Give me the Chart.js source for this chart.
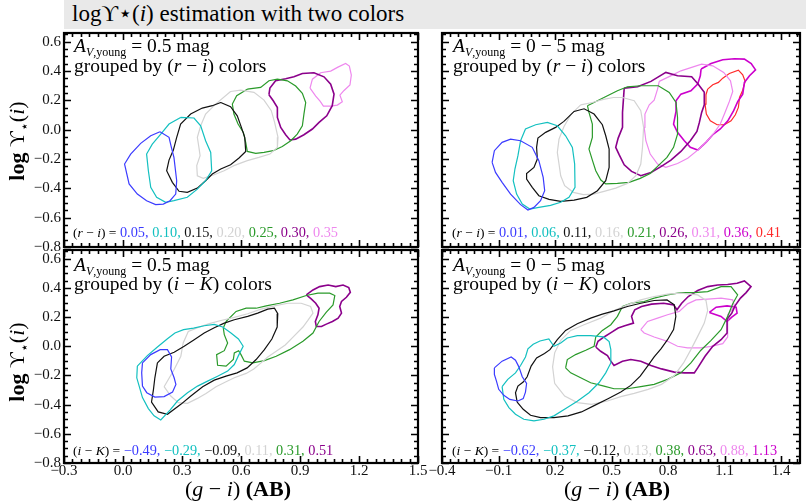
<!DOCTYPE html>
<html>
<head>
<meta charset="utf-8">
<script src="https://cdn.jsdelivr.net/npm/chart.js@4"></script>
<style>
  body { margin: 0; background: #fff; }
  #page { position: relative; width: 806px; height: 504px; overflow: hidden;
          font-family: "Liberation Serif", "DejaVu Serif", serif; color: #000; }
  #page canvas { position: absolute; left: 0; top: 0; }
  .titlebar { position: absolute; left: 64px; top: 0; width: 742px; height: 29px; background: #e9e9e9; }
  .title { position: absolute; left: 72px; top: 1px; font-size: 23px; line-height: 25px; white-space: nowrap; }
  .note { position: absolute; font-size: 19.5px; line-height: 20px; white-space: nowrap; z-index: 2; }
  .note sub { font-size: 12px; vertical-align: -4px; line-height: 0; }
  .legend { position: absolute; font-size: 14.3px; line-height: 16px; white-space: nowrap; z-index: 2; }
  .legend .lhs { font-size: 13.5px; }
  .ylab { position: absolute; font-size: 22px; white-space: nowrap;
          transform: translate(-50%, -50%) rotate(-90deg); z-index: 2; }
  .ylab sub { font-size: 14px; vertical-align: -5px; line-height: 0; }
  .xlab { position: absolute; font-size: 22px; white-space: nowrap; transform: translate(-50%, -50%); z-index: 2; }
</style>
</head>
<body>
<div id="page">
  <div class="titlebar"></div>
  <div class="title">logϒ⋆(<i>i</i>) estimation with two colors</div>

  <canvas id="tl" width="806" height="504"></canvas>
  <canvas id="tr" width="806" height="504"></canvas>
  <canvas id="bl" width="806" height="504"></canvas>
  <canvas id="br" width="806" height="504"></canvas>

  <div class="note" style="left:74px;top:36px"><i>A</i><sub><i>V</i>,young</sub> = 0.5 mag</div>
  <div class="note" style="left:74px;top:56px">grouped by (<i>r</i> − <i>i</i>) colors</div>
  <div class="note" style="left:453px;top:36px"><i>A</i><sub><i>V</i>,young</sub> = 0 − 5 mag</div>
  <div class="note" style="left:453px;top:56px">grouped by (<i>r</i> − <i>i</i>) colors</div>
  <div class="note" style="left:74px;top:255px"><i>A</i><sub><i>V</i>,young</sub> = 0.5 mag</div>
  <div class="note" style="left:74px;top:274px">grouped by (<i>i</i> − <i>K</i>) colors</div>
  <div class="note" style="left:453px;top:255px"><i>A</i><sub><i>V</i>,young</sub> = 0 − 5 mag</div>
  <div class="note" style="left:453px;top:274px">grouped by (<i>i</i> − <i>K</i>) colors</div>

  <div class="legend" id="legTL" style="left:73px;top:224px"></div>
  <div class="legend" id="legTR" style="left:452px;top:224px"></div>
  <div class="legend" id="legBL" style="left:73px;top:442px"></div>
  <div class="legend" id="legBR" style="left:452px;top:442px"></div>

  <div class="ylab" style="left:17px;top:141px"><b>log</b> ϒ<sub>⋆</sub>(<i>i</i>)</div>
  <div class="ylab" style="left:17px;top:362px"><b>log</b> ϒ<sub>⋆</sub>(<i>i</i>)</div>
  <div class="xlab" style="left:238px;top:489px">(<i>g</i> − <i>i</i>) <b>(AB)</b></div>
  <div class="xlab" style="left:617px;top:489px">(<i>g</i> − <i>i</i>) <b>(AB)</b></div>
</div>

<script>
// tick values
const xTicksLeft = [-0.3, 0.0, 0.3, 0.6, 0.9, 1.2, 1.5];
const xTicksRight = [-0.4, -0.1, 0.2, 0.5, 0.8, 1.1, 1.4];
const yTicks = [-0.8, -0.6, -0.4, -0.2, 0.0, 0.2, 0.4, 0.6];

// groups (legend values)
const riFixedLabels = ['0.05', '0.10', '0.15', '0.20', '0.25', '0.30', '0.35'];
const riFreeLabels = ['0.01', '0.06', '0.11', '0.16', '0.21', '0.26', '0.31', '0.36', '0.41'];
const ikFixedLabels = ['−0.49', '−0.29', '−0.09', '0.11', '0.31', '0.51'];
const ikFreeLabels = ['−0.62', '−0.37', '−0.12', '0.13', '0.38', '0.63', '0.88', '1.13'];

// contours, A_V = 0.5, grouped by (r-i)
const riFixed005 = [[0.188,-0.014],[0.234,-0.052],[0.246,-0.120],[0.259,-0.189],[0.273,-0.348],[0.268,-0.439],[0.239,-0.484],[0.205,-0.507],[0.166,-0.511],[0.120,-0.484],[0.073,-0.439],[0.031,-0.370],[0.008,-0.234],[0.039,-0.166],[0.090,-0.093],[0.141,-0.041]];
const riFixed010 = [[0.293,0.084],[0.361,0.080],[0.395,0.027],[0.420,-0.075],[0.446,-0.155],[0.451,-0.280],[0.420,-0.348],[0.378,-0.405],[0.327,-0.461],[0.259,-0.484],[0.217,-0.495],[0.171,-0.461],[0.141,-0.393],[0.129,-0.280],[0.120,-0.166],[0.149,-0.098],[0.192,-0.030],[0.234,0.039]];
const riFixed015 = [[0.497,0.186],[0.547,0.157],[0.581,0.095],[0.602,0.016],[0.619,-0.052],[0.624,-0.148],[0.590,-0.193],[0.547,-0.239],[0.497,-0.268],[0.454,-0.302],[0.420,-0.348],[0.378,-0.398],[0.327,-0.427],[0.285,-0.420],[0.251,-0.359],[0.222,-0.280],[0.234,-0.207],[0.256,-0.139],[0.273,-0.052],[0.293,0.039],[0.344,0.107],[0.403,0.148],[0.454,0.164]];
const riFixed020 = [[0.547,0.261],[0.598,0.270],[0.666,0.255],[0.717,0.202],[0.754,0.130],[0.771,0.050],[0.788,-0.052],[0.785,-0.120],[0.747,-0.166],[0.691,-0.189],[0.632,-0.211],[0.564,-0.245],[0.514,-0.280],[0.463,-0.307],[0.408,-0.332],[0.378,-0.314],[0.375,-0.245],[0.392,-0.177],[0.386,-0.120],[0.378,-0.052],[0.395,0.027],[0.420,0.107],[0.471,0.175]];
const riFixed025 = [[0.632,0.277],[0.700,0.289],[0.742,0.334],[0.785,0.345],[0.836,0.334],[0.878,0.298],[0.912,0.248],[0.929,0.186],[0.920,0.107],[0.912,0.027],[0.886,-0.030],[0.853,-0.075],[0.810,-0.114],[0.764,-0.143],[0.717,-0.155],[0.675,-0.161],[0.632,-0.148],[0.624,-0.086],[0.612,-0.018],[0.585,0.039],[0.564,0.107],[0.556,0.175],[0.578,0.232]];
const riFixed030 = [[0.742,0.239],[0.747,0.284],[0.776,0.334],[0.827,0.348],[0.869,0.361],[0.912,0.384],[0.971,0.389],[1.022,0.361],[1.056,0.311],[1.073,0.243],[1.064,0.164],[1.036,0.095],[0.997,0.050],[0.963,0.005],[0.920,-0.034],[0.878,-0.064],[0.849,-0.070],[0.827,-0.034],[0.802,0.016],[0.785,0.084],[0.785,0.152],[0.764,0.198]];
const riFixed035 = [[0.951,0.284],[0.963,0.345],[1.005,0.389],[1.056,0.400],[1.093,0.427],[1.132,0.452],[1.151,0.434],[1.161,0.373],[1.154,0.305],[1.124,0.268],[1.103,0.236],[1.115,0.191],[1.090,0.168],[1.056,0.161],[1.019,0.161],[1.002,0.195],[0.980,0.230]];

// contours, A_V = 0-5, grouped by (r-i)
const riFree001 = [[-0.134,-0.223],[-0.122,-0.143],[-0.081,-0.086],[-0.036,-0.064],[0.017,-0.075],[0.079,-0.120],[0.114,-0.211],[0.137,-0.325],[0.145,-0.416],[0.123,-0.484],[0.088,-0.530],[0.056,-0.548],[0.017,-0.511],[-0.036,-0.439],[-0.081,-0.359],[-0.116,-0.291]];
const riFree006 = [[0.017,-0.075],[0.043,0.005],[0.097,0.034],[0.159,0.050],[0.212,0.027],[0.256,-0.041],[0.292,-0.120],[0.304,-0.234],[0.306,-0.393],[0.274,-0.461],[0.230,-0.495],[0.176,-0.516],[0.114,-0.530],[0.066,-0.541],[0.026,-0.507],[-0.004,-0.439],[-0.022,-0.348],[-0.013,-0.268],[0.003,-0.177]];
const riFree011 = [[0.247,0.057],[0.301,0.125],[0.354,0.143],[0.407,0.107],[0.451,0.034],[0.469,-0.041],[0.487,-0.132],[0.487,-0.257],[0.469,-0.348],[0.425,-0.416],[0.368,-0.461],[0.301,-0.480],[0.230,-0.489],[0.168,-0.475],[0.114,-0.450],[0.079,-0.393],[0.049,-0.336],[0.049,-0.298],[0.088,-0.257],[0.106,-0.200],[0.102,-0.120],[0.109,-0.057],[0.150,-0.018],[0.203,0.016]];
const riFree016 = [[0.336,0.170],[0.398,0.186],[0.457,0.207],[0.510,0.220],[0.558,0.220],[0.620,0.198],[0.655,0.130],[0.670,0.016],[0.664,-0.120],[0.655,-0.234],[0.629,-0.314],[0.584,-0.366],[0.522,-0.398],[0.460,-0.420],[0.404,-0.439],[0.350,-0.443],[0.297,-0.427],[0.251,-0.382],[0.230,-0.314],[0.221,-0.234],[0.212,-0.155],[0.221,-0.064],[0.247,0.020],[0.286,0.107]];
const riFree021 = [[0.372,0.164],[0.425,0.198],[0.478,0.232],[0.531,0.266],[0.584,0.293],[0.655,0.300],[0.748,0.300],[0.806,0.255],[0.842,0.186],[0.850,0.084],[0.850,-0.030],[0.829,-0.120],[0.794,-0.189],[0.748,-0.245],[0.705,-0.298],[0.652,-0.332],[0.593,-0.359],[0.531,-0.366],[0.469,-0.370],[0.443,-0.343],[0.416,-0.280],[0.398,-0.207],[0.380,-0.132],[0.398,-0.052],[0.398,0.039],[0.380,0.118]];
const riFree026 = [[0.567,0.284],[0.638,0.293],[0.709,0.330],[0.788,0.391],[0.850,0.368],[0.925,0.361],[0.960,0.311],[0.992,0.255],[0.992,0.170],[0.978,0.118],[0.966,0.050],[0.953,-0.011],[0.918,-0.075],[0.868,-0.148],[0.815,-0.207],[0.762,-0.252],[0.709,-0.291],[0.655,-0.314],[0.606,-0.284],[0.567,-0.239],[0.540,-0.170],[0.522,-0.120],[0.535,-0.057],[0.558,0.016],[0.558,0.118],[0.563,0.209]];
const riFree031 = [[0.753,0.330],[0.811,0.366],[0.868,0.402],[0.925,0.425],[0.978,0.448],[1.037,0.436],[1.095,0.391],[1.131,0.334],[1.143,0.261],[1.125,0.193],[1.102,0.118],[1.077,0.039],[1.046,-0.018],[1.001,-0.086],[0.957,-0.139],[0.904,-0.195],[0.850,-0.230],[0.788,-0.257],[0.744,-0.234],[0.705,-0.166],[0.682,-0.075],[0.673,0.016],[0.677,0.107],[0.700,0.170],[0.726,0.202],[0.744,0.277]];
const riFree036 = [[0.975,0.414],[1.028,0.452],[1.090,0.477],[1.152,0.484],[1.205,0.482],[1.241,0.452],[1.264,0.409],[1.232,0.368],[1.205,0.323],[1.196,0.243],[1.170,0.193],[1.148,0.130],[1.117,0.061],[1.077,0.005],[1.037,-0.034],[1.001,-0.086],[0.957,-0.139],[0.918,-0.120],[0.886,-0.075],[0.850,-0.018],[0.829,0.039],[0.842,0.125],[0.842,0.198],[0.868,0.243],[0.921,0.266],[0.957,0.311],[0.971,0.368]];
const riFree041 = [[1.010,0.277],[1.037,0.307],[1.067,0.323],[1.090,0.352],[1.125,0.384],[1.173,0.407],[1.196,0.375],[1.209,0.330],[1.196,0.270],[1.179,0.220],[1.173,0.152],[1.157,0.102],[1.134,0.061],[1.099,0.034],[1.060,0.034],[1.024,0.061],[1.003,0.107],[0.996,0.175],[1.001,0.239]];

// contours, A_V = 0.5, grouped by (i-K)
const ikFixedM049 = [[0.099,-0.114],[0.141,-0.057],[0.189,-0.023],[0.226,-0.023],[0.247,-0.073],[0.243,-0.155],[0.260,-0.216],[0.269,-0.261],[0.252,-0.314],[0.209,-0.345],[0.162,-0.348],[0.121,-0.318],[0.099,-0.273],[0.095,-0.182]];
const ikFixedM029 = [[0.073,-0.136],[0.124,-0.064],[0.175,-0.005],[0.226,0.052],[0.264,0.091],[0.308,0.114],[0.359,0.125],[0.413,0.141],[0.464,0.150],[0.507,0.132],[0.549,0.091],[0.587,0.050],[0.611,0.000],[0.587,-0.064],[0.566,-0.125],[0.532,-0.170],[0.481,-0.205],[0.430,-0.239],[0.379,-0.273],[0.328,-0.318],[0.277,-0.375],[0.240,-0.436],[0.192,-0.505],[0.158,-0.477],[0.129,-0.427],[0.099,-0.352],[0.087,-0.295],[0.070,-0.216]];
const ikFixedM009 = [[0.175,-0.114],[0.209,-0.068],[0.260,-0.041],[0.311,0.000],[0.362,0.045],[0.413,0.091],[0.464,0.127],[0.515,0.159],[0.566,0.182],[0.634,0.205],[0.685,0.227],[0.736,0.255],[0.770,0.261],[0.787,0.223],[0.784,0.132],[0.757,0.050],[0.719,-0.023],[0.677,-0.091],[0.631,-0.148],[0.580,-0.182],[0.524,-0.205],[0.464,-0.232],[0.405,-0.277],[0.345,-0.341],[0.294,-0.398],[0.226,-0.466],[0.179,-0.450],[0.145,-0.382],[0.155,-0.295],[0.162,-0.216]];
const ikFixed011 = [[0.209,-0.277],[0.260,-0.159],[0.294,-0.068],[0.306,0.023],[0.332,0.102],[0.383,0.130],[0.439,0.155],[0.498,0.177],[0.566,0.198],[0.634,0.223],[0.702,0.255],[0.770,0.277],[0.838,0.295],[0.906,0.295],[0.954,0.273],[0.966,0.227],[0.940,0.177],[0.915,0.132],[0.872,0.073],[0.825,0.009],[0.779,-0.034],[0.736,-0.073],[0.702,-0.114],[0.665,-0.155],[0.626,-0.186],[0.566,-0.216],[0.524,-0.243],[0.473,-0.277],[0.422,-0.323],[0.376,-0.359],[0.328,-0.391],[0.281,-0.386],[0.243,-0.341]];
const ikFixed031 = [[0.524,0.170],[0.575,0.239],[0.626,0.261],[0.677,0.261],[0.728,0.277],[0.796,0.295],[0.864,0.318],[0.932,0.348],[0.991,0.364],[1.051,0.364],[1.077,0.348],[1.068,0.284],[1.034,0.234],[0.997,0.170],[0.966,0.091],[0.915,0.034],[0.847,-0.023],[0.779,-0.068],[0.719,-0.098],[0.660,-0.114],[0.617,-0.102],[0.600,-0.057],[0.588,-0.030],[0.566,-0.045],[0.561,-0.091],[0.524,-0.136],[0.481,-0.130],[0.476,-0.057],[0.515,-0.030],[0.532,0.023],[0.515,0.080],[0.510,0.125]];
const ikFixed051 = [[0.932,0.352],[0.966,0.386],[1.000,0.409],[1.043,0.420],[1.082,0.409],[1.119,0.420],[1.148,0.402],[1.156,0.370],[1.136,0.336],[1.111,0.307],[1.102,0.273],[1.111,0.227],[1.094,0.193],[1.065,0.170],[1.034,0.152],[1.009,0.136],[0.983,0.136],[0.978,0.170],[0.991,0.216],[0.997,0.261],[0.980,0.295],[0.957,0.325]];

// contours, A_V = 0-5, grouped by (i-K)
const ikFreeM062 = [[-0.122,-0.148],[-0.081,-0.102],[-0.033,-0.073],[-0.010,-0.095],[0.008,-0.141],[0.026,-0.209],[0.049,-0.255],[0.043,-0.314],[0.031,-0.359],[0.003,-0.375],[-0.040,-0.364],[-0.072,-0.336],[-0.099,-0.295],[-0.111,-0.239],[-0.122,-0.193]];
const ikFreeM037 = [[-0.081,-0.277],[-0.051,-0.227],[-0.010,-0.182],[0.017,-0.132],[0.043,-0.073],[0.056,-0.018],[0.084,0.014],[0.120,0.036],[0.167,0.050],[0.194,0.000],[0.230,0.023],[0.265,0.057],[0.318,0.073],[0.389,0.073],[0.457,0.064],[0.487,0.032],[0.496,-0.023],[0.496,-0.114],[0.469,-0.182],[0.433,-0.250],[0.380,-0.318],[0.318,-0.377],[0.261,-0.423],[0.194,-0.477],[0.141,-0.500],[0.088,-0.511],[0.034,-0.500],[-0.010,-0.466],[-0.045,-0.420],[-0.072,-0.364]];
const ikFreeM012 = [[-0.001,-0.382],[-0.010,-0.318],[0.003,-0.273],[0.031,-0.245],[0.052,-0.209],[0.073,-0.136],[0.102,-0.080],[0.144,-0.050],[0.173,-0.023],[0.212,0.045],[0.256,0.109],[0.318,0.155],[0.389,0.193],[0.451,0.220],[0.513,0.243],[0.584,0.273],[0.655,0.295],[0.726,0.314],[0.794,0.318],[0.833,0.284],[0.841,0.205],[0.829,0.114],[0.797,0.045],[0.762,-0.018],[0.726,-0.073],[0.691,-0.136],[0.652,-0.205],[0.602,-0.268],[0.549,-0.314],[0.481,-0.359],[0.410,-0.405],[0.340,-0.450],[0.269,-0.477],[0.194,-0.489],[0.123,-0.489],[0.070,-0.473],[0.031,-0.432]];
const ikFree013 = [[0.198,-0.255],[0.187,-0.141],[0.198,-0.045],[0.230,0.041],[0.283,0.109],[0.354,0.148],[0.442,0.193],[0.513,0.245],[0.584,0.284],[0.655,0.318],[0.726,0.341],[0.797,0.357],[0.868,0.364],[0.957,0.352],[1.001,0.314],[1.010,0.245],[0.992,0.159],[0.957,0.068],[0.921,-0.023],[0.882,-0.114],[0.833,-0.200],[0.765,-0.261],[0.694,-0.295],[0.620,-0.323],[0.549,-0.345],[0.478,-0.375],[0.393,-0.398],[0.318,-0.386],[0.251,-0.341]];
const ikFree038 = [[0.256,-0.148],[0.265,-0.091],[0.309,-0.057],[0.363,-0.027],[0.407,0.000],[0.416,0.064],[0.451,0.109],[0.496,0.148],[0.531,0.205],[0.558,0.273],[0.602,0.295],[0.673,0.307],[0.726,0.330],[0.797,0.352],[0.868,0.368],[0.939,0.368],[1.010,0.375],[1.081,0.409],[1.134,0.409],[1.169,0.352],[1.143,0.291],[1.116,0.205],[1.081,0.114],[1.028,0.041],[0.974,-0.027],[0.921,-0.114],[0.868,-0.182],[0.797,-0.227],[0.726,-0.261],[0.655,-0.277],[0.584,-0.291],[0.513,-0.291],[0.460,-0.273],[0.389,-0.250],[0.336,-0.216],[0.283,-0.182]];
const ikFree063 = [[0.416,-0.005],[0.428,0.034],[0.460,0.064],[0.499,0.095],[0.535,0.125],[0.570,0.141],[0.616,0.159],[0.606,0.205],[0.623,0.250],[0.659,0.273],[0.712,0.289],[0.776,0.295],[0.829,0.284],[0.847,0.250],[0.872,0.295],[0.907,0.341],[0.957,0.382],[1.010,0.409],[1.063,0.420],[1.116,0.423],[1.166,0.432],[1.205,0.448],[1.240,0.409],[1.214,0.368],[1.184,0.330],[1.155,0.277],[1.138,0.227],[1.113,0.186],[1.113,0.091],[1.081,0.045],[1.037,0.000],[0.996,-0.068],[0.957,-0.148],[0.939,-0.182],[0.886,-0.182],[0.833,-0.177],[0.765,-0.155],[0.709,-0.132],[0.655,-0.102],[0.602,-0.091],[0.558,-0.102],[0.513,-0.132],[0.496,-0.102],[0.478,-0.064],[0.442,-0.034]];
const ikFree088 = [[0.655,0.114],[0.691,0.170],[0.744,0.193],[0.797,0.216],[0.859,0.239],[0.903,0.291],[0.948,0.318],[1.010,0.323],[1.081,0.330],[1.143,0.318],[1.152,0.273],[1.116,0.216],[1.116,0.148],[1.116,0.064],[1.090,0.018],[1.028,0.000],[0.974,-0.011],[0.903,-0.011],[0.850,0.000],[0.797,0.034],[0.726,0.064],[0.673,0.091]];
const ikFree113 = [[1.019,0.232],[1.055,0.268],[1.113,0.277],[1.161,0.268],[1.166,0.227],[1.138,0.200],[1.113,0.170],[1.081,0.205]];

// line colours
const riFixedColors = ['#3b3bff', '#13c0c0', '#111111', '#d3d3d3', '#2a9a2a', '#8b008b', '#ee88ee'];
const riFreeColors = ['#3b3bff', '#13c0c0', '#111111', '#d3d3d3', '#2a9a2a', '#8b008b', '#ee88ee', '#cc00cc', '#ff2a2a'];
const ikFixedColors = ['#3b3bff', '#13c0c0', '#111111', '#d3d3d3', '#2a9a2a', '#8b008b'];
const ikFreeColors = ['#3b3bff', '#13c0c0', '#111111', '#d3d3d3', '#2a9a2a', '#8b008b', '#ee88ee', '#cc00cc'];

function fmt(v) {
  var s = Math.abs(v).toFixed(1);
  return v < -1e-9 ? '\u2212' + s : s;
}

// frame with inward ticks on four sides
const framePlugin = {
  id: 'frame',
  afterDatasetsDraw(chart, args, opts) {
    const ctx = chart.ctx, a = chart.chartArea;
    const xs = chart.scales.x, ys = chart.scales.y;
    ctx.save();
    ctx.strokeStyle = '#000';
    ctx.lineWidth = 1.6;
    ctx.beginPath();
    var xStep = 0.3 / 7, k, v, px, len;
    var nx = Math.floor((xs.max - xs.min) / xStep + 1e-6);
    for (k = 0; k <= nx; k++) {
      v = xs.min + k * xStep;
      px = Math.round(xs.getPixelForValue(v)) + 0.5;
      len = (k % 7 === 0) ? 7 : 4;
      ctx.moveTo(px, a.bottom); ctx.lineTo(px, a.bottom - len);
      ctx.moveTo(px, a.top); ctx.lineTo(px, a.top + len);
    }
    var yStep = 0.05;
    var ny = Math.floor((ys.max - ys.min) / yStep + 1e-6);
    for (k = 0; k <= ny; k++) {
      v = ys.min + k * yStep;
      px = Math.round(ys.getPixelForValue(v)) + 0.5;
      len = (k % 4 === 0) ? 7 : 4;
      ctx.moveTo(a.left, px); ctx.lineTo(a.left + len, px);
      ctx.moveTo(a.right, px); ctx.lineTo(a.right - len, px);
    }
    ctx.stroke();
    ctx.lineWidth = 2.2;
    ctx.strokeRect(a.left, a.top, a.right - a.left, a.bottom - a.top);

    ctx.fillStyle = '#111';
    ctx.font = '15px "Liberation Serif", serif';
    if (opts.yLabels) {
      ctx.textAlign = 'right';
      ctx.textBaseline = 'middle';
      opts.yLabels.forEach(function (t) {
        ctx.fillText(fmt(t), a.left - 3, ys.getPixelForValue(t));
      });
    }
    if (opts.xLabels) {
      ctx.textAlign = 'center';
      ctx.textBaseline = 'middle';
      opts.xLabels.forEach(function (t) {
        ctx.fillText(fmt(t), xs.getPixelForValue(t), a.bottom + 8);
      });
    }
    ctx.restore();
  }
};

function makePanel(id, pad, xMin, xMax, contours, colors, xLabels, yLabels) {
  const datasets = contours.map(function (c, i) {
    return {
      data: c.concat([c[0]]),
      showLine: true,
      borderColor: colors[i],
      borderWidth: (colors[i] === '#8b008b' || colors[i] === '#cc00cc') ? 1.6 : 1.2,
      pointRadius: 0,
      fill: false,
      tension: 0
    };
  });
  new Chart(document.getElementById(id), {
    type: 'scatter',
    data: { datasets: datasets },
    options: {
      responsive: false,
      animation: false,
      layout: { padding: pad },
      plugins: {
        legend: { display: false },
        tooltip: { enabled: false },
        frame: { xLabels: xLabels, yLabels: yLabels }
      },
      scales: {
        x: { type: 'linear', min: xMin, max: xMax, display: false },
        y: { type: 'linear', min: -0.8, max: 0.66, display: false }
      }
    },
    plugins: [framePlugin]
  });
}

function makeLegend(id, lhs, labels, colors) {
  var html = '<span class="lhs">' + lhs + '</span> ';
  labels.forEach(function (l, i) {
    html += '<span style="color:' + colors[i] + '">' + l + (i < labels.length - 1 ? ', ' : '') + '</span>';
  });
  document.getElementById(id).innerHTML = html;
}

makePanel('tl', { left: 64, top: 33, right: 388, bottom: 257 }, -0.3, 1.5,
  [riFixed005, riFixed010, riFixed015, riFixed020, riFixed025, riFixed030, riFixed035],
  riFixedColors, null, yTicks);
makePanel('tr', { left: 442, top: 33, right: 6, bottom: 257 }, -0.4, 1.5,
  [riFree001, riFree006, riFree011, riFree016, riFree021, riFree026, riFree031, riFree036, riFree041],
  riFreeColors, null, null);
makePanel('bl', { left: 64, top: 250, right: 388, bottom: 41 }, -0.3, 1.5,
  [ikFixedM049, ikFixedM029, ikFixedM009, ikFixed011, ikFixed031, ikFixed051],
  ikFixedColors, xTicksLeft, yTicks);
makePanel('br', { left: 442, top: 250, right: 6, bottom: 41 }, -0.4, 1.5,
  [ikFreeM062, ikFreeM037, ikFreeM012, ikFree013, ikFree038, ikFree063, ikFree088, ikFree113],
  ikFreeColors, xTicksRight, null);

makeLegend('legTL', '(<i>r</i> − <i>i</i>) =', riFixedLabels, riFixedColors);
makeLegend('legTR', '(<i>r</i> − <i>i</i>) =', riFreeLabels, riFreeColors);
makeLegend('legBL', '(<i>i</i> − <i>K</i>) =', ikFixedLabels, ikFixedColors);
makeLegend('legBR', '(<i>i</i> − <i>K</i>) =', ikFreeLabels, ikFreeColors);
</script>
</body>
</html>
